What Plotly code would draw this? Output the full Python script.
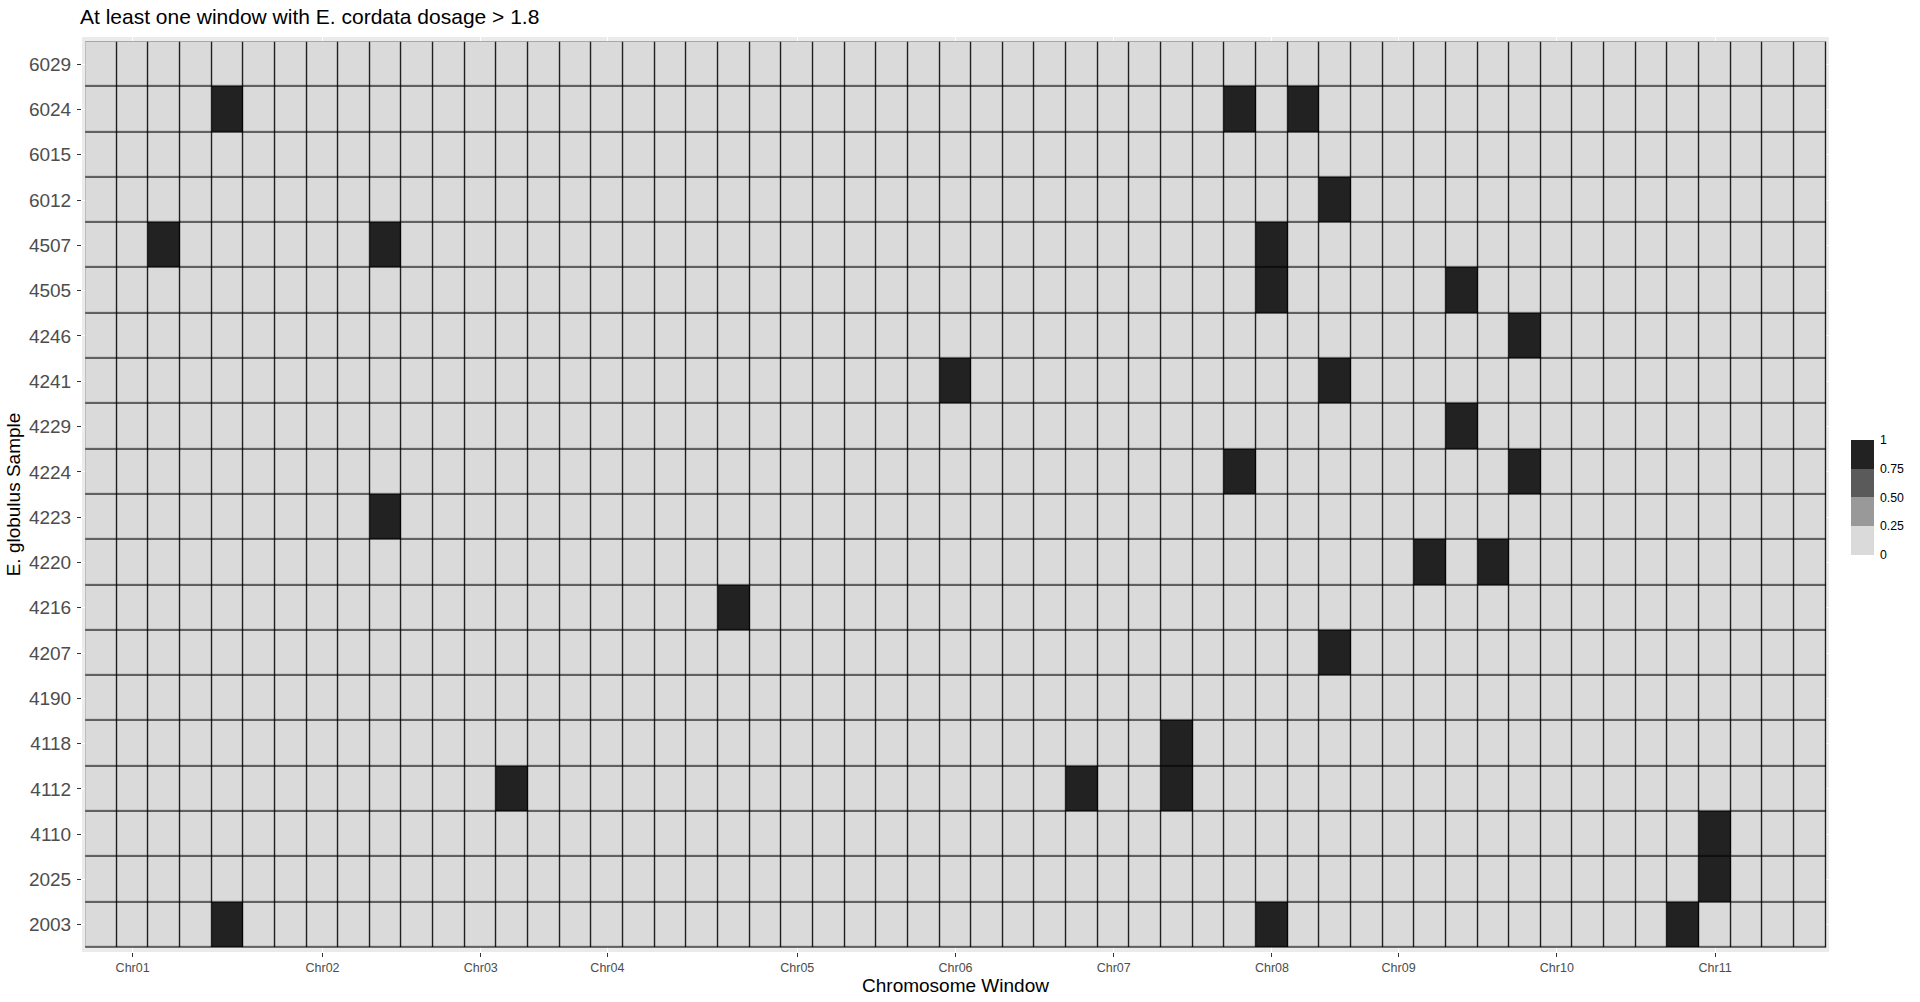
import numpy as np
import plotly.graph_objects as go

# ---- data ----
samples = ["2003", "2025", "4110", "4112", "4118", "4190", "4207", "4216", "4220", "4223",
           "4224", "4229", "4241", "4246", "4505", "4507", "6012", "6015", "6024", "6029"]
n_windows = 55
windows = list(range(n_windows))
tick_windows = [1, 7, 12, 16, 22, 27, 32, 37, 41, 46, 51]
tick_labels = ["Chr01", "Chr02", "Chr03", "Chr04", "Chr05", "Chr06",
               "Chr07", "Chr08", "Chr09", "Chr10", "Chr11"]

# cells where at least one window has E. cordata dosage > 1.8 (value 1)
hit_samples = ["6024", "6024", "6024",
               "6012",
               "4507", "4507", "4507",
               "4505", "4505",
               "4246",
               "4241", "4241",
               "4229",
               "4224", "4224",
               "4223",
               "4220", "4220",
               "4216",
               "4207",
               "4118",
               "4112", "4112", "4112",
               "4110",
               "2025",
               "2003", "2003", "2003"]
hit_windows = [4, 36, 38,
               39,
               2, 9, 37,
               37, 43,
               45,
               27, 39,
               43,
               36, 45,
               9,
               42, 44,
               20,
               39,
               34,
               13, 31, 34,
               51,
               51,
               4, 37, 50]

legend_ticks = [0, 0.25, 0.5, 0.75, 1]
legend_text = ["0", "0.25", "0.50", "0.75", "1"]

# ---- build matrix ----
z = np.zeros((len(samples), n_windows))
for s, w in zip(hit_samples, hit_windows):
    z[samples.index(s), w] = 1

c0, c1, c2, c3 = "#DADADA", "#999999", "#5A5A5A", "#222222"
steps = [[0, c0], [0.25, c0], [0.25, c1], [0.5, c1], [0.5, c2], [0.75, c2], [0.75, c3], [1, c3]]

FONT = "Liberation Sans, Arial, sans-serif"

fig = go.Figure()
# black underlay that shows through the gaps as tile borders
fig.add_trace(go.Heatmap(
    z=np.ones_like(z), x=windows, y=samples,
    colorscale=[[0, "#000000"], [1, "#000000"]], showscale=False,
    hoverinfo="skip", zmin=0, zmax=1))
fig.add_trace(go.Heatmap(
    z=z, x=windows, y=samples, xgap=1.2, ygap=1.2,
    colorscale=steps, zmin=0, zmax=1,
    colorbar=dict(
        xref="container", yref="container",
        x=1851 / 1920, xanchor="left", xpad=0,
        y=1 - 544.5 / 1002, yanchor="middle", ypad=0,
        len=115, lenmode="pixels", thickness=23, thicknessmode="pixels",
        outlinewidth=0, ticks="outside", ticklen=4, tickcolor="rgba(0,0,0,0)",
        tickvals=legend_ticks, ticktext=legend_text,
        tickfont=dict(family=FONT, size=12.3, color="#000000"),
    ),
))

fig.update_layout(
    width=1920, height=1002,
    margin=dict(l=82, r=91, t=37, b=50),
    paper_bgcolor="white", plot_bgcolor="#EBEBEB",
    font=dict(family=FONT),
    showlegend=False,
    title=dict(text="At least one window with E. cordata dosage > 1.8",
               x=80 / 1920, xanchor="left", xref="container",
               y=1 - 17 / 1002, yanchor="middle", yref="container",
               font=dict(family=FONT, size=21, color="#000000")),
    xaxis=dict(
        range=[-0.6, n_windows - 0.4], tickvals=tick_windows, ticktext=tick_labels,
        ticks="outside", ticklen=4, tickwidth=1, tickcolor="#333333",
        tickfont=dict(family=FONT, size=12.5, color="#4D4D4D"),
        showgrid=True, gridcolor="white", gridwidth=1.1, zeroline=False, showline=False,
        title=dict(text="Chromosome Window", standoff=4,
                   font=dict(family=FONT, size=19, color="#000000")),
        automargin=False,
    ),
    yaxis=dict(
        type="category", categoryorder="array", categoryarray=samples,
        range=[-0.6, len(samples) - 0.4],
        ticks="outside", ticklen=4, tickwidth=1, tickcolor="#333333",
        tickfont=dict(family=FONT, size=19, color="#4D4D4D"),
        ticklabelstandoff=2,
        showgrid=True, gridcolor="white", gridwidth=1.1, zeroline=False, showline=False,
        title=dict(text="E. globulus Sample", standoff=3,
                   font=dict(family=FONT, size=19, color="#000000")),
        automargin=False,
    ),
)

fig.write_html("out.html")
